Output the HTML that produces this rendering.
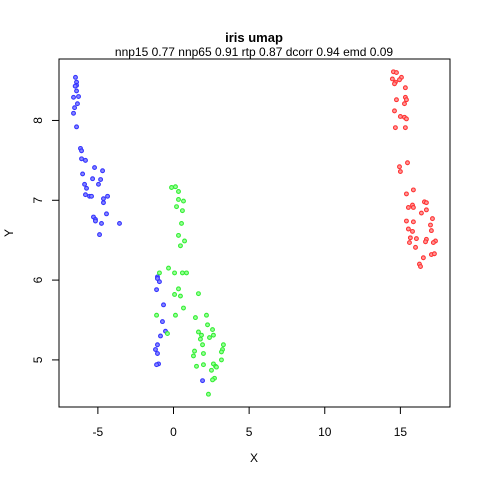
<!DOCTYPE html>
<html><head><meta charset="utf-8"><style>
body{margin:0;background:#fff}
text{font-family:"Liberation Sans",Arial,sans-serif}
</style></head><body>
<svg id="chart" width="480" height="480" xmlns="http://www.w3.org/2000/svg">
<rect width="480" height="480" fill="#fff"/>
<text x="254" y="42" font-size="13" font-weight="bold" text-anchor="middle">iris umap</text>
<text x="254" y="56" font-size="12" text-anchor="middle">nnp15 0.77 nnp65 0.91 rtp 0.87 dcorr 0.94 emd 0.09</text>
<rect x="59" y="59" width="391" height="348" fill="none" stroke="#000"/>
<g id="axes"></g><g id="points"></g>
<text x="254" y="462" font-size="12" text-anchor="middle">X</text>
<text x="13" y="233" font-size="12" text-anchor="middle" transform="rotate(-90 13 233)">Y</text>
</svg>
<script>
const blueX=[-6.48,-6.41,-6.41,-6.50,-6.41,-6.61,-6.28,-6.35,-6.54,-6.61,-6.41,-6.15,-6.08,-6.08,-5.82,-5.22,-4.69,-6.01,-5.35,-4.82,-5.88,-4.96,-5.75,-5.82,-5.55,-5.42,-4.36,-4.63,-4.63,-4.43,-5.29,-5.16,-5.16,-4.76,-3.57,-4.89,-1.06,-1.06,-0.93,-1.12,-0.66,-0.73,-0.53,-0.86,-1.06,-1.19,-1.06,-0.99,-1.12,1.92];
const blueY=[8.54,8.48,8.44,8.43,8.37,8.29,8.30,8.21,8.16,8.09,7.92,7.65,7.62,7.52,7.50,7.41,7.37,7.33,7.27,7.26,7.20,7.20,7.15,7.07,7.05,7.05,7.05,7.02,6.97,6.83,6.79,6.76,6.74,6.71,6.71,6.57,6.04,6.02,5.98,5.88,5.69,5.48,5.36,5.30,5.19,5.13,5.08,4.95,4.94,4.74];
const greenX=[-0.13,0.13,0.33,0.33,0.66,0.20,0.59,0.53,0.33,0.73,0.46,-0.33,-0.93,0.07,0.59,0.86,0.33,0.07,0.46,1.65,0.66,-1.12,0.13,2.18,1.45,2.25,2.58,1.65,1.85,2.64,1.78,2.38,1.92,3.30,3.24,1.39,3.17,1.98,1.32,3.17,1.52,1.98,2.64,2.78,2.84,2.51,2.71,2.58,2.31,-0.40];
const greenY=[7.16,7.17,7.11,7.01,6.99,6.92,6.87,6.71,6.56,6.49,6.43,6.15,6.09,6.09,6.09,6.09,5.89,5.82,5.80,5.83,5.65,5.56,5.56,5.56,5.53,5.44,5.38,5.35,5.31,5.31,5.26,5.28,5.19,5.19,5.13,5.11,5.10,5.08,5.05,5.00,4.92,4.94,4.95,4.92,4.91,4.87,4.77,4.75,4.57,5.33];
const redX=[14.54,14.74,14.47,15.07,14.94,14.67,14.61,15.33,14.74,15.33,15.40,15.27,14.61,15.00,15.27,15.40,14.67,15.33,15.47,14.94,15.00,15.86,15.40,16.59,16.72,15.80,15.53,15.86,16.72,16.39,17.12,15.40,15.86,16.99,15.53,17.05,15.80,15.66,16.06,16.72,16.66,17.32,17.18,15.60,16.00,16.52,17.05,17.25,16.26,16.33];
const redY=[8.61,8.60,8.52,8.54,8.51,8.48,8.46,8.41,8.26,8.29,8.26,8.21,8.12,8.05,8.04,8.02,7.91,7.91,7.47,7.42,7.36,7.13,7.08,6.98,6.97,6.94,6.91,6.91,6.88,6.84,6.77,6.74,6.73,6.69,6.64,6.62,6.61,6.53,6.52,6.51,6.48,6.49,6.47,6.47,6.41,6.28,6.32,6.33,6.20,6.17];
const xTicks=[-5,0,5,10,15];
const yTicks=[5,6,7,8];
const NS="http://www.w3.org/2000/svg";
const X0=-7.57,X1=18.28,Y0=4.41,Y1=8.77;
function sx(v){return 59+(v-X0)/(X1-X0)*391;}
function sy(v){return 407-(v-Y0)/(Y1-Y0)*348;}
const axes=document.getElementById('axes');
function mk(tag,attrs,parent){const e=document.createElementNS(NS,tag);for(const k in attrs)e.setAttribute(k,attrs[k]);parent.appendChild(e);return e;}
mk('line',{x1:sx(xTicks[0]),x2:sx(xTicks[xTicks.length-1]),y1:407,y2:407,stroke:'#000'},axes);
xTicks.forEach(t=>{
  const l=mk('line',{x1:sx(t),x2:sx(t),y1:407,y2:414,stroke:'#000'},axes);
  
  
  const tx=mk('text',{x:sx(t),y:436,'font-size':12,'text-anchor':'middle'},axes);
  tx.textContent=t;
  
  
});
yTicks.forEach(t=>{
  const l=mk('line',{x1:52,x2:59,y1:sy(t),y2:sy(t),stroke:'#000'},axes);
  
  
  const tx=mk('text',{x:42,y:sy(t),'font-size':12,'text-anchor':'middle',transform:`rotate(-90 42 ${sy(t)})`},axes);
  tx.textContent=t;
  
  
});
const pts=document.getElementById('points');
function series(xs,ys,col,fill,name){
  xs.forEach((x,i)=>{
    const c=mk('circle',{cx:sx(x),cy:sy(ys[i]),r:1.9,fill:fill,stroke:col,'stroke-width':1.1},pts);
    
    
  });
}
series(blueX,blueY,'#3333ff','#8888ff','point-setosa');
series(greenX,greenY,'#33ee33','#99ff99','point-versicolor');
series(redX,redY,'#ff3333','#ff9999','point-virginica');
</script>
</body></html>
